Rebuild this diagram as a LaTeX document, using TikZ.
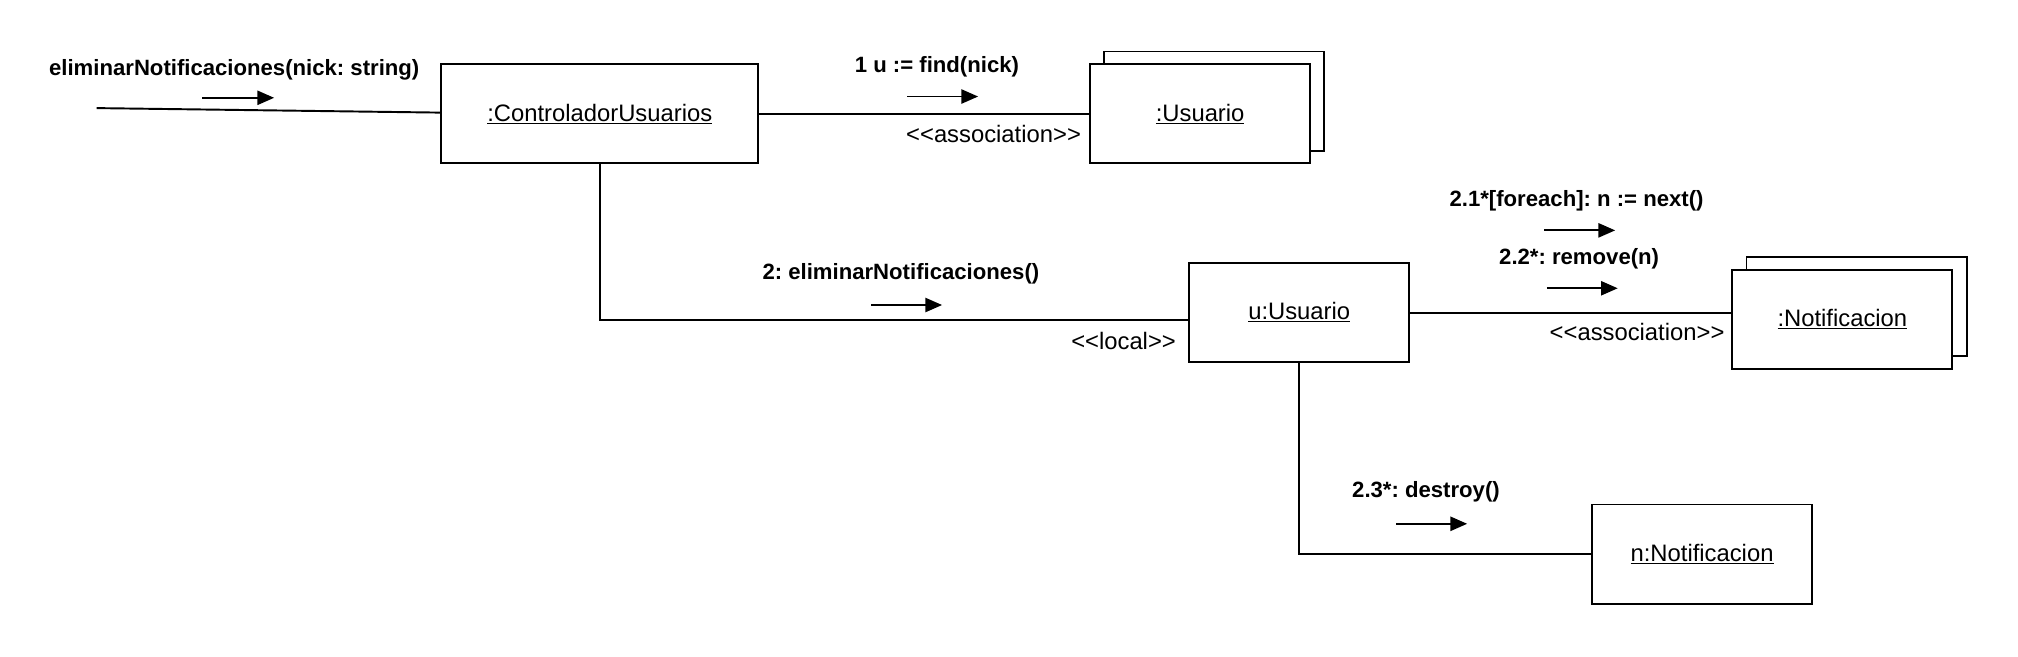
\documentclass[tikz,border=0pt]{standalone}
\usepackage{fontspec}
\setmainfont{Liberation Sans}
\usetikzlibrary{arrows.meta}
\begin{document}
\frenchspacing
\begin{tikzpicture}[x=1pt,y=-1pt,line width=1.5pt,
  obj/.style={draw,fill=white,minimum height=77pt,inner sep=0pt,
    font=\fontsize{18.5}{22}\selectfont},
  msg/.style={font=\fontsize{17.2}{21}\selectfont\bfseries,inner sep=0pt},
  lbl/.style={font=\fontsize{18.5}{22}\selectfont,inner sep=0pt},
  dirarrow/.style={-{Triangle[length=13pt,width=11pt]},line width=1.5pt}]
\useasboundingbox (0,0) rectangle (1568,510);

% objects
\node[obj,minimum width=246pt] (ctrl) at (466,88.5) {\underline{:ControladorUsuarios}};
\node[obj,minimum width=171pt] (usrB) at (943.5,78.5) {};
\node[obj,minimum width=171pt] (usr) at (932.5,88.5) {\underline{:Usuario}};
\node[obj,minimum width=171pt] (uu) at (1009.5,242.5) {\underline{u:Usuario}};
\node[obj,minimum width=171pt] (notB) at (1442.5,238) {};
\node[obj,minimum width=171pt] (notf) at (1431.5,248) {\underline{:Notificacion}};
\node[obj,minimum width=171pt] (nn) at (1322.5,430.5) {\underline{n:Notificacion}};

% links
\coordinate (in) at (75,84);
\draw (in) -- ([yshift=1pt]ctrl.west);
\draw (ctrl.east) -- (usr.west);
\draw (ctrl.south) |- ([yshift=-6.5pt]uu.west);
\draw ([yshift=-0.5pt]uu.east) -- ([yshift=5pt]notf.west);
\draw (uu.south) |- (nn.west);

% link labels
\node[lbl] (as1) at (772,104) {<{}<association>{}>};
\node[lbl] (loc) at (873,265) {<{}<local>{}>};
\node[lbl] (as2) at (1272,258) {<{}<association>{}>};

% messages
\node[msg] (m0) at (182,54) {eliminarNotificaciones(nick: string)};
\coordinate (m0s) at (157,76); \coordinate (m0e) at (213,76);
\draw[dirarrow] (m0s) -- (m0e);

\node[msg] (m1) at (728,52) {1 u := find(nick)};
\coordinate (m1s) at (705,75); \coordinate (m1e) at (760,75);
\draw[dirarrow] (m1s) -- (m1e);

\node[msg] (m2) at (700,213) {2: eliminarNotificaciones()};
\coordinate (m2s) at (677,237); \coordinate (m2e) at (732,237);
\draw[dirarrow] (m2s) -- (m2e);

\node[msg] (m21) at (1225,156) {2.1*[foreach]: n := next()};
\coordinate (m21s) at (1200,179); \coordinate (m21e) at (1255,179);
\draw[dirarrow] (m21s) -- (m21e);

\node[msg] (m22) at (1227,201) {2.2*: remove(n)};
\coordinate (m22s) at (1202,224); \coordinate (m22e) at (1257,224);
\draw[dirarrow] (m22s) -- (m22e);

\node[msg] (m23) at (1108,382) {2.3*: destroy()};
\coordinate (m23s) at (1085,407); \coordinate (m23e) at (1140,407);
\draw[dirarrow] (m23s) -- (m23e);
\end{tikzpicture}
\end{document}
